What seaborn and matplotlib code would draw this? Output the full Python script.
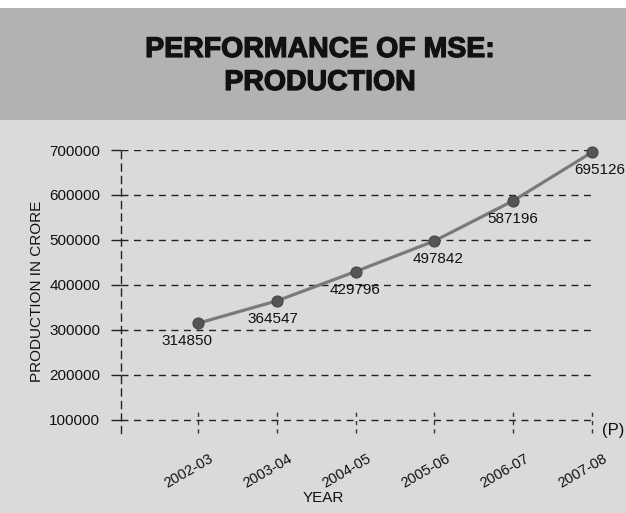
import matplotlib
matplotlib.use("Agg")
import matplotlib.pyplot as plt
import matplotlib.transforms as mtransforms
import matplotlib.patheffects as pe
from matplotlib.patches import Rectangle
import seaborn as sns
import pandas as pd

# ---- data ----
years = ["2002-03", "2003-04", "2004-05", "2005-06", "2006-07", "2007-08"]
production = [314850, 364547, 429796, 497842, 587196, 695126]
y_ticks = [100000, 200000, 300000, 400000, 500000, 600000, 700000]
title_lines = ["PERFORMANCE OF MSE:", "PRODUCTION"]
x_label = "YEAR"
y_label = "PRODUCTION IN CRORE"
note = "(P)"

df = pd.DataFrame({"year": years, "production": production})

sns.set_theme(style="white")
plt.rcParams["font.family"] = ["Liberation Sans", "DejaVu Sans"]

W, H = 626, 513
fig = plt.figure(figsize=(W / 100, H / 100), dpi=100)
fig.patch.set_facecolor("#dadada")

# title band
fig.patches.append(Rectangle((0, 1 - 120 / H), 1, 112 / H, transform=fig.transFigure,
                             facecolor="#b2b2b2", edgecolor="none", zorder=0))
fig.patches.append(Rectangle((0, 1 - 8 / H), 1, 8 / H, transform=fig.transFigure,
                             facecolor="white", edgecolor="none", zorder=0))
stroke = [pe.withStroke(linewidth=0.9, foreground="#111111")]
fig.text(320 / W, 1 - 50 / H, title_lines[0], ha="center", va="center",
         fontsize=20.5, fontweight="bold", color="#111111", path_effects=stroke)
fig.text(320 / W, 1 - 83 / H, title_lines[1], ha="center", va="center",
         fontsize=20.5, fontweight="bold", color="#111111", path_effects=stroke)

left, right, top, bottom = 121, 593, 150, 433
ax = fig.add_axes([left / W, 1 - bottom / H, (right - left) / W, (bottom - top) / H])
ax.set_facecolor("none")

sns.lineplot(data=df, x="year", y="production", ax=ax, sort=False,
             color="#7a7a7a", linewidth=2.3, marker="o", markersize=8,
             markerfacecolor="#555555", markeredgecolor="#444444", clip_on=False)

ax.set_ylim(71000, 700000)
ax.set_xlim(-0.975, len(years) - 1 + 0.012)
ax.set_yticks(y_ticks)
ax.set_yticklabels([str(t) for t in y_ticks], fontsize=11, color="#111111")

ax.grid(axis="y", linestyle=(0, (5, 4)), color="#222222", linewidth=1.0)
ax.grid(axis="x", visible=False)
for s in ["top", "right", "bottom"]:
    ax.spines[s].set_visible(False)
ax.spines["left"].set_linestyle((0, (5, 4)))
ax.spines["left"].set_color("#222222")
ax.spines["left"].set_linewidth(1.0)

ax.tick_params(axis="y", direction="out", length=7, width=1, color="#222222", pad=8, left=True)
ax.tick_params(axis="x", length=0, pad=13)

ax.set_xticks(range(len(years)))
ax.set_xticklabels(years, rotation=30, fontsize=10.5, color="#111111")
offset = mtransforms.ScaledTranslation(-9 / 100, 0, fig.dpi_scale_trans)
for lab in ax.get_xticklabels():
    lab.set_transform(lab.get_transform() + offset)

# dashed vertical tick marks crossing the baseline
ax.vlines(range(len(years)), 0, 25 / (bottom - top), transform=ax.get_xaxis_transform(),
          colors="#333333", linestyles=(0, (3, 3)), linewidth=1.0, clip_on=False)

# value labels
dx = [-11, -4, 0, 4, 0, 8]
for i, (v, d) in enumerate(zip(production, dx)):
    ax.annotate(str(v), (i, v), xytext=(d, -18), textcoords="offset pixels",
                ha="center", va="center", fontsize=11, color="#111111")

ax.set_xlabel(x_label, fontsize=11, color="#111111")
ax.xaxis.set_label_coords((323 - left) / (right - left), -(498 - bottom) / (bottom - top), transform=ax.transAxes)
ax.xaxis.label.set_va("center")
ax.set_ylabel(y_label, fontsize=11, color="#111111")
ax.yaxis.set_label_coords(-(left - 37) / (right - left), 0.5, transform=ax.transAxes)
ax.yaxis.label.set_va("center")

fig.text(613 / W, 1 - 430 / H, note, ha="center", va="center", fontsize=12, color="#111111")

fig.savefig("out.png", dpi=100, facecolor=fig.get_facecolor())
